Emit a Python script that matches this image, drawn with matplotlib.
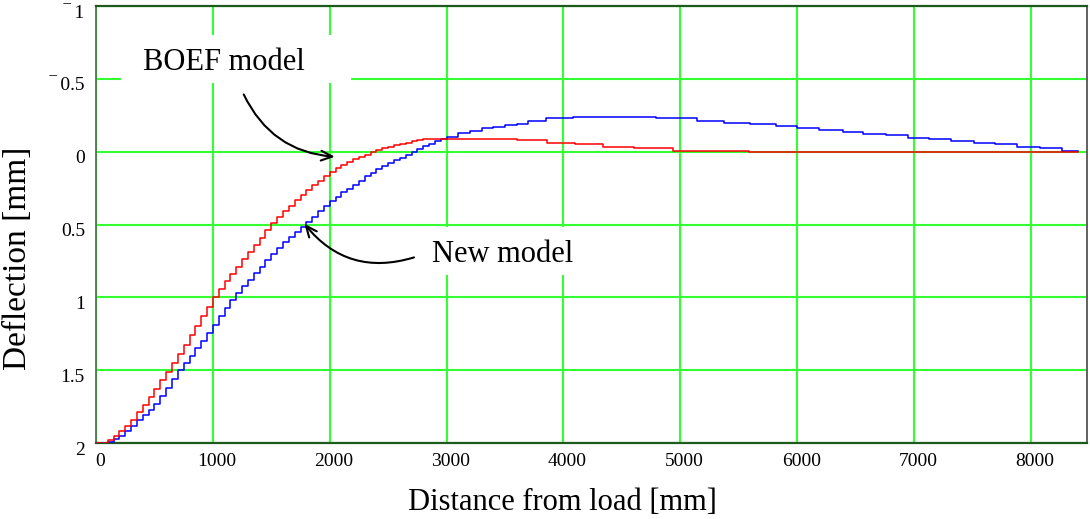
import matplotlib
matplotlib.use("Agg")
import matplotlib.pyplot as plt
from matplotlib.patches import Rectangle
from matplotlib.transforms import ScaledTranslation

plt.rcParams['font.family'] = ['Liberation Serif', 'DejaVu Serif']

# distance from load [mm] / deflection [mm] (positive = downwards)
boef_x = [0, 50, 100, 150, 200, 250, 300, 350, 400, 450,
          500, 550, 600, 650, 700, 750, 800, 850, 900, 950,
          1000, 1050, 1100, 1150, 1200, 1250, 1300, 1350, 1400, 1450,
          1500, 1550, 1600, 1650, 1700, 1750, 1800, 1850, 1900, 1950,
          2000, 2050, 2100, 2150, 2200, 2250, 2300, 2350, 2400, 2450,
          2500, 2550, 2600, 2650, 2700, 2750, 2800, 2900,
          3600, 3860, 4100, 4340, 4600, 4940, 5590, 8400]
boef_y = [2.00, 2.00, 1.98, 1.955, 1.92, 1.88, 1.84, 1.79, 1.74, 1.685,
          1.63, 1.57, 1.51, 1.45, 1.39, 1.325, 1.26, 1.195, 1.13, 1.065,
          1.00, 0.945, 0.89, 0.84, 0.79, 0.74, 0.69, 0.64, 0.59, 0.54,
          0.49, 0.45, 0.41, 0.37, 0.33, 0.295, 0.26, 0.23, 0.20, 0.17,
          0.14, 0.115, 0.09, 0.07, 0.05, 0.035, 0.02, 0.005, -0.01, -0.022,
          -0.035, -0.045, -0.055, -0.063, -0.07, -0.078, -0.085, -0.09,
          -0.08, -0.06, -0.055, -0.035, -0.023, -0.007, 0.0, 0.0]

new_x = [0, 50, 100, 150, 200, 250, 300, 350, 400, 450,
         500, 550, 600, 650, 700, 750, 800, 850, 900, 950,
         1000, 1050, 1100, 1150, 1200, 1250, 1300, 1350, 1400, 1450,
         1500, 1550, 1600, 1650, 1700, 1750, 1800, 1850, 1900, 1950,
         2000, 2050, 2100, 2150, 2200, 2250, 2300, 2350, 2400, 2450,
         2500, 2550, 2600, 2650, 2700, 2750, 2800, 2850, 2900, 2950,
         3000, 3100, 3200, 3300, 3400, 3500, 3600, 3700, 3850, 4080,
         4790, 5140, 5370, 5600, 5820, 6000, 6190, 6390, 6560, 6760,
         6950, 7130, 7320, 7510, 7690, 7880, 8080, 8270, 8400]
new_y = [2.00, 2.00, 1.99, 1.97, 1.95, 1.92, 1.88, 1.845, 1.81, 1.77,
         1.73, 1.675, 1.62, 1.56, 1.50, 1.45, 1.40, 1.35, 1.30, 1.245,
         1.19, 1.13, 1.07, 1.02, 0.97, 0.925, 0.88, 0.835, 0.79, 0.745,
         0.70, 0.66, 0.62, 0.585, 0.55, 0.515, 0.48, 0.445, 0.41, 0.375,
         0.34, 0.31, 0.28, 0.255, 0.23, 0.20, 0.17, 0.145, 0.12, 0.10,
         0.08, 0.06, 0.04, 0.02, 0.00, -0.02, -0.04, -0.055, -0.07, -0.085,
         -0.10, -0.125, -0.145, -0.16, -0.17, -0.18, -0.19, -0.21, -0.23, -0.24,
         -0.23, -0.21, -0.20, -0.19, -0.176, -0.165, -0.15, -0.137, -0.123, -0.112,
         -0.096, -0.085, -0.075, -0.062, -0.053, -0.034, -0.025, -0.007, -0.007]

y_ticks = [-1, -0.5, 0, 0.5, 1, 1.5, 2]
y_tick_labels = ['\u203e 1', '\u203e 0.5', '0', '0.5', '1', '1.5', '2']
x_ticks = [0, 1000, 2000, 3000, 4000, 5000, 6000, 7000, 8000]

fig = plt.figure(figsize=(10.9, 5.19), dpi=100)
ax = fig.add_axes([0.0881, 0.1464, 0.9091, 0.8420])

ax.plot(new_x, new_y, color='#0000ff', lw=1.1, drawstyle='steps-post', zorder=3)
ax.plot(boef_x, boef_y, color='#ff0000', lw=1.1, drawstyle='steps-post', zorder=4)

ax.set_xlim(0, 8480)
ax.set_ylim(2, -1)
ax.set_xticks(x_ticks)
ax.set_yticks(y_ticks)
ax.set_yticklabels(y_tick_labels)
ax.tick_params(length=0, labelsize=14, colors='black')
ax.tick_params(axis='x', pad=7)
ax.tick_params(axis='y', pad=8)
for lab in ax.get_yticklabels():
    lab.set_transform(lab.get_transform() + ScaledTranslation(0, -5 / 100, fig.dpi_scale_trans))
for lab in ax.get_xticklabels():
    lab.set_transform(lab.get_transform() + ScaledTranslation(4 / 100, 0, fig.dpi_scale_trans))

ax.grid(True, color='#33ff33', lw=1.5, zorder=1)
ax.set_axisbelow(True)
for side in ['top', 'bottom']:
    ax.spines[side].set_color('#1e5a1e')
    ax.spines[side].set_linewidth(1.6)
ax.spines['left'].set_color('#4a7a4a')
ax.spines['left'].set_linewidth(1.3)
ax.spines['right'].set_color('#555555')
ax.spines['right'].set_linewidth(1.3)

fig.text(562 / 1090, 1 - 503 / 519, 'Distance from load [mm]', fontsize=22,
         ha='center', va='center')
fig.text(18 / 1090, 1 - 258 / 519, 'Deflection [mm]', fontsize=24,
         ha='center', va='center', rotation=90)

# white boxes behind the labels hide the grid
ax.add_patch(Rectangle((210, -0.80), 1969, 0.33, fc='white', ec='none', zorder=2))
ax.add_patch(Rectangle((2735, 0.516), 1490, 0.33, fc='white', ec='none', zorder=2))
ax.text(1090, -0.61, 'BOEF model', fontsize=22, ha='center', va='center', zorder=6)
ax.text(3480, 0.705, 'New model', fontsize=22, ha='center', va='center', zorder=6)

arrow = dict(arrowstyle='->, head_length=0.8, head_width=0.35', color='black', lw=1.5)
ax.annotate('', xy=(2067, 0.036), xytext=(1254, -0.41),
            arrowprops=dict(connectionstyle='arc3,rad=0.3', **arrow), zorder=6)
ax.annotate('', xy=(1768, 0.48), xytext=(2744, 0.72),
            arrowprops=dict(connectionstyle='arc3,rad=-0.35', **arrow), zorder=6)

fig.savefig('out.png', dpi=100)
